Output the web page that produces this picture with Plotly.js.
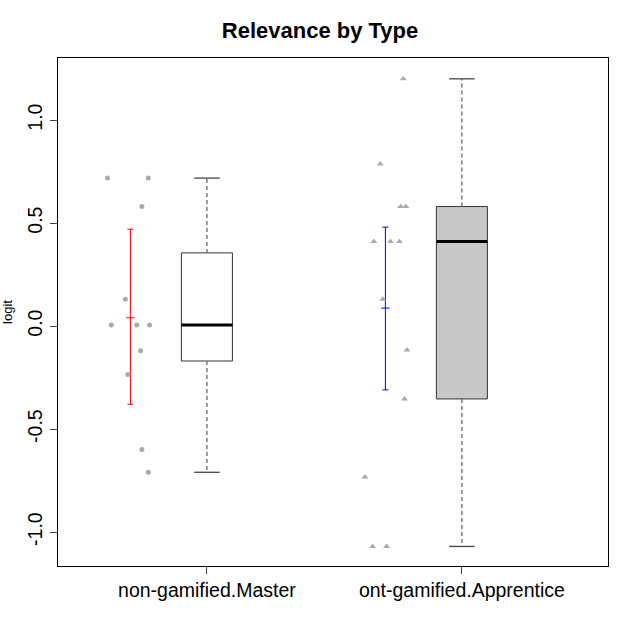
<!DOCTYPE html><html><head><script src="https://cdn.plot.ly/plotly-3.0.1.min.js"></script></head><body style="margin:0"><div id="c" style="width:640px;height:640px"></div><script>
const categories=["non-gamified.Master","ont-gamified.Apprentice"];
const q1=[-0.17,-0.354], med=[0.005,0.41], q3=[0.355,0.58], lo=[-0.71,-1.07], hi=[0.718,1.2];
const fills=["white","#c8c8c8"];
const g1x=[0.61,0.77,0.745,0.68,0.625,0.725,0.775,0.74,0.69,0.745,0.77];
const g1y=[0.718,0.718,0.58,0.13,0.005,0.005,0.005,-0.12,-0.235,-0.60,-0.71];
const g2x=[1.77,1.68,1.76,1.78,1.655,1.72,1.755,1.69,1.785,1.775,1.62,1.65,1.705];
const g2y=[1.2,0.786,0.58,0.58,0.41,0.41,0.41,0.13,-0.117,-0.354,-0.733,-1.07,-1.07];
const means=[0.04,0.087], errUp=[0.43,0.393], errDn=[0.42,0.397];
const errColors=["red","blue"];
const w=0.1, ex=-0.3;
const traces=[];
for(let i=0;i<2;i++){
 const x=i+1;
 traces.push({x:[x-w,x+w,x+w,x-w,x-w],y:[q1[i],q1[i],q3[i],q3[i],q1[i]],mode:'lines',fill:'toself',fillcolor:fills[i],line:{color:'#333',width:1},hoverinfo:'skip'});
 traces.push({x:[x-w,x+w],y:[med[i],med[i]],mode:'lines',line:{color:'black',width:3}});
 traces.push({x:[x,x,null,x,x],y:[q3[i],hi[i],null,q1[i],lo[i]],mode:'lines',line:{color:'#666',width:1.3,dash:'4px,3px'}});
 traces.push({x:[x-w/2,x+w/2,null,x-w/2,x+w/2],y:[hi[i],hi[i],null,lo[i],lo[i]],mode:'lines',line:{color:'#444',width:1.3}});
 traces.push({x:[x+ex],y:[means[i]],mode:'markers',marker:{symbol:'line-ew',size:6,line:{color:errColors[i],width:1}},error_y:{type:'data',symmetric:false,array:[errUp[i]],arrayminus:[errDn[i]],color:errColors[i],width:3,thickness:1}});
}
traces.push({x:g1x,y:g1y,mode:'markers',marker:{symbol:'circle',size:5,color:'#aaaaaa'}});
traces.push({x:g2x,y:g2y,mode:'markers',marker:{symbol:'triangle-up',size:6,color:'#aaaaaa'}});
Plotly.newPlot('c',traces,{
 width:640,height:640,showlegend:false,plot_bgcolor:'white',paper_bgcolor:'white',
 margin:{l:58,r:32,t:58,b:74},
 title:{text:'<b>Relevance by Type</b>',x:0.5,y:0.965,font:{family:'Liberation Sans, Arial',size:22,color:'black'}},
 xaxis:{range:[0.416,2.573],tickvals:[1,2],ticktext:categories,showgrid:false,zeroline:false,showline:true,mirror:true,linecolor:'black',ticks:'outside',ticklen:7,tickfont:{family:'Liberation Sans, Arial',size:19.5,color:'black'}},
 yaxis:{range:[-1.165,1.301],tickvals:[-1,-0.5,0,0.5,1],ticktext:['-1.0','-0.5','0.0','0.5','1.0'],tickangle:-90,showgrid:false,zeroline:false,showline:true,mirror:true,linecolor:'black',ticks:'outside',ticklen:7,tickfont:{family:'Liberation Sans, Arial',size:19.5,color:'black'},title:{text:'logit',standoff:10,font:{family:'Liberation Sans, Arial',size:13,color:'black'}}}
},{displayModeBar:false});
</script></body></html>
